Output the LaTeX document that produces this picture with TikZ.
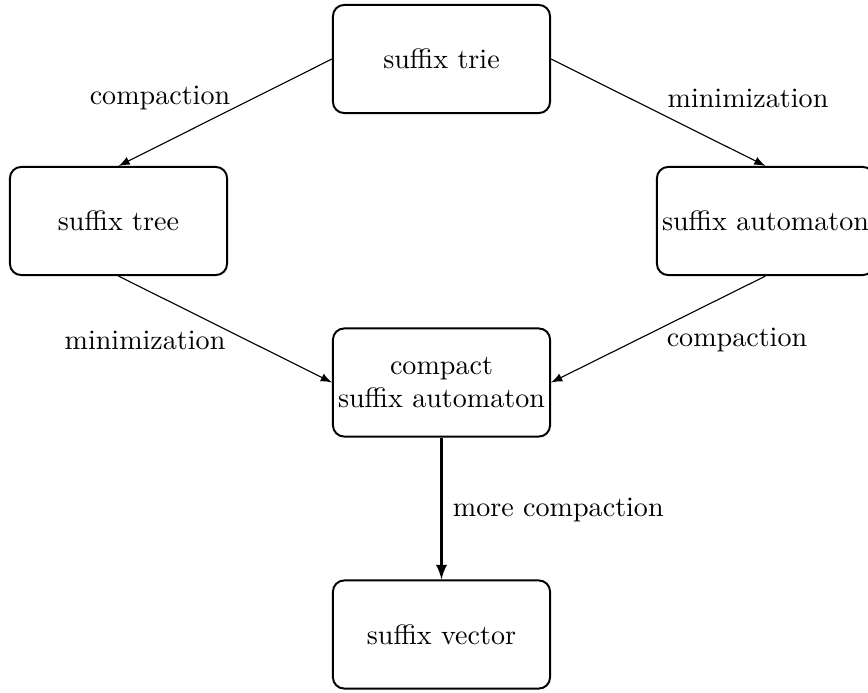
\documentclass[tikz,border=0pt]{standalone}
\usetikzlibrary{arrows}
\begin{document}
\begin{tikzpicture}[x=0.356pt, y=-0.356pt, >=latex,
		box/.style={draw, rounded corners=4pt, line width=0.7pt, minimum width=77.3pt, minimum height=38.5pt, inner sep=0pt, align=center}]
				\clip (0,0) rectangle (868,693);
				
				% structures
				\node[box] (trie) at (441.5,59) {suffix trie};
				\node[box] (tree) at (118.5,221) {suffix tree};
				\node[box] (automaton) at (765.5,221) {suffix automaton};
				\node[box] (compact) at (441.5,382.5) {compact\\suffix automaton};
				\node[box] (vector) at (441.5,634.5) {suffix vector};
				
				% transformations
				\draw[->] (trie.west) -- (tree.north);
				\draw[->] (trie.east) -- (automaton.north);
				\draw[->] (tree.south) -- (compact.west);
				\draw[->] (automaton.south) -- (compact.east);
				\draw[->, line width=0.8pt] (compact.south) -- (vector.north);
				
				% labels
				\draw (160,98) node (lcomp1) {compaction};
				\draw (748,98) node (lmin1) {minimization};
				\draw (145,340) node (lmin2) {minimization};
				\draw (737,340) node (lcomp2) {compaction};
				\draw (443,510) node[anchor=west] (lmore) {more compaction};
				
			\end{tikzpicture}
\end{document}
